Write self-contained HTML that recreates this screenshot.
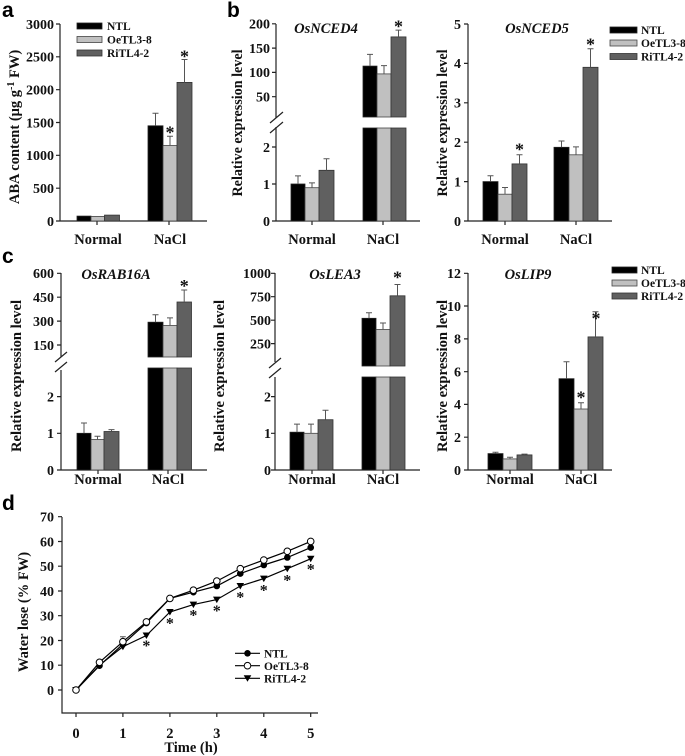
<!DOCTYPE html>
<html><head><meta charset="utf-8">
<style>
html,body{margin:0;padding:0;background:#fff}
svg{display:block}
text{font-family:"Liberation Serif",serif;font-weight:bold;fill:#111}
.tr{font-size:14px;text-anchor:end}
.tc{font-size:14px;text-anchor:middle}
.lab{font-size:14.5px;text-anchor:middle}
.ttl{font-size:14.5px;font-style:italic;text-anchor:middle}
.leg{font-size:11.5px}
.ast{font-size:18px;text-anchor:middle}
.astd{font-size:16px;text-anchor:middle}
.pl{font-family:"Liberation Sans",sans-serif;font-size:21px;fill:#000}
.ax{stroke:#222;stroke-width:1.2;fill:none}
.n{fill:#000;stroke:#222;stroke-width:.8}
.o{fill:#c0c0c0;stroke:#444;stroke-width:.8}
.r{fill:#606060;stroke:#333;stroke-width:.8}
.e{stroke:#555;stroke-width:1;fill:none}
.ln{stroke:#000;stroke-width:1.2;fill:none}
</style></head><body>
<svg width="685" height="756" viewBox="0 0 685 756" xmlns="http://www.w3.org/2000/svg">

<!-- Panel letters -->
<text class="pl" x="2" y="17">a</text>
<text class="pl" x="227" y="17">b</text>
<text class="pl" x="2" y="263">c</text>
<text class="pl" x="2" y="510">d</text>

<!-- ===== Panel a ===== -->
<path class="ax" d="M60,24V221H207 M56,24H60 M56,56.8H60 M56,89.7H60 M56,122.5H60 M56,155.3H60 M56,188.2H60 M56,221H60 M97,221V225 M169,221V225"/>
<text class="tr" x="54" y="28.8">3000</text>
<text class="tr" x="54" y="61.6">2500</text>
<text class="tr" x="54" y="94.5">2000</text>
<text class="tr" x="54" y="127.3">1500</text>
<text class="tr" x="54" y="160.1">1000</text>
<text class="tr" x="54" y="193">500</text>
<text class="tr" x="54" y="225.8">0</text>
<rect class="n" x="77" y="216.1" width="14" height="4.9"/>
<rect class="o" x="91" y="216.4" width="13.5" height="4.6"/>
<rect class="r" x="104.5" y="215.1" width="15" height="5.9"/>
<rect class="n" x="148" y="125.8" width="15" height="95.2"/>
<rect class="o" x="163" y="145.5" width="14" height="75.5"/>
<rect class="r" x="177" y="82.4" width="15" height="138.6"/>
<path class="e" d="M155.5,125.8V113.3 M152.5,113.3H158.5 M170,145.5V136.3 M167,136.3H173 M184.5,82.4V59.5 M181.5,59.5H187.5"/>
<text class="ast" x="170" y="138.6">*</text>
<text class="ast" x="184.5" y="62.6">*</text>
<rect class="n" x="77" y="23" width="25" height="6"/>
<rect class="o" x="77" y="36.5" width="25" height="6"/>
<rect class="r" x="77" y="50" width="25" height="6"/>
<text class="leg" x="107" y="30">NTL</text>
<text class="leg" x="107" y="43.5">OeTL3-8</text>
<text class="leg" x="107" y="57">RiTL4-2</text>
<text class="lab" x="98" y="244">Normal</text>
<text class="lab" x="170" y="244">NaCl</text>
<text class="lab" transform="translate(19,127) rotate(-90)">ABA content (μg g<tspan font-size="10" dy="-5">-1</tspan><tspan dy="5"> FW)</tspan></text>

<!-- ===== Panel b: OsNCED4 ===== -->
<path class="ax" d="M276,24V118 M276,127V221H420 M272,23.8H276 M272,48.1H276 M272,72.4H276 M272,96.7H276 M272,147H276 M272,184H276 M272,221H276 M312,221V225 M383,221V225"/>
<path class="ax" d="M270,123L283,112 M270,133L283,122"/>
<text class="tr" x="270" y="28.6">200</text>
<text class="tr" x="270" y="52.9">150</text>
<text class="tr" x="270" y="77.2">100</text>
<text class="tr" x="270" y="101.5">50</text>
<text class="tr" x="270" y="151.8">2</text>
<text class="tr" x="270" y="188.8">1</text>
<text class="tr" x="270" y="225.8">0</text>
<rect class="n" x="291" y="184" width="14" height="37"/>
<rect class="o" x="305" y="187.7" width="14" height="33.3"/>
<rect class="r" x="319" y="170.3" width="15" height="50.7"/>
<path class="e" d="M298,184V175.9 M295,175.9H301 M312,187.7V182.9 M309,182.9H315 M326.5,170.3V158.8 M323.5,158.8H329.5"/>
<rect class="n" x="363" y="66.1" width="14" height="50.9"/>
<rect class="o" x="377" y="73.9" width="14" height="43.1"/>
<rect class="r" x="391" y="36.9" width="15" height="80.1"/>
<rect class="n" x="363" y="128" width="14" height="93"/>
<rect class="o" x="377" y="128" width="14" height="93"/>
<rect class="r" x="391" y="128" width="15" height="93"/>
<path class="e" d="M370,66.1V54.4 M367,54.4H373 M384,73.9V65.6 M381,65.6H387 M398.5,36.9V30.1 M395.5,30.1H401.5"/>
<text class="ast" x="398.5" y="32.6">*</text>
<text class="ttl" x="326" y="33">OsNCED4</text>
<text class="lab" x="312" y="244">Normal</text>
<text class="lab" x="383" y="244">NaCl</text>
<text class="lab" textLength="147" lengthAdjust="spacingAndGlyphs" transform="translate(242,123) rotate(-90)">Relative expression level</text>

<!-- ===== Panel b: OsNCED5 ===== -->
<path class="ax" d="M468,24V221H612 M464,24H468 M464,63.4H468 M464,102.8H468 M464,142.2H468 M464,181.6H468 M464,221H468 M505,221V225 M576,221V225"/>
<text class="tr" x="461" y="28.8">5</text>
<text class="tr" x="461" y="68.2">4</text>
<text class="tr" x="461" y="107.6">3</text>
<text class="tr" x="461" y="147">2</text>
<text class="tr" x="461" y="186.4">1</text>
<text class="tr" x="461" y="225.8">0</text>
<rect class="n" x="483" y="181.6" width="15" height="39.4"/>
<rect class="o" x="498" y="194.2" width="14" height="26.8"/>
<rect class="r" x="512" y="163.9" width="15" height="57.1"/>
<rect class="n" x="554" y="147.3" width="15" height="73.7"/>
<rect class="o" x="569" y="154.8" width="14" height="66.2"/>
<rect class="r" x="583" y="67.3" width="15" height="153.7"/>
<path class="e" d="M490.5,181.6V175.7 M487.5,175.7H493.5 M505,194.2V187.5 M502,187.5H508 M519.5,163.9V154.8 M516.5,154.8H522.5 M561.5,147.3V141 M558.5,141H564.5 M576,154.8V146.9 M573,146.9H579 M590.5,67.3V48.8 M587.5,48.8H593.5"/>
<text class="ast" x="519.5" y="155.3">*</text>
<text class="ast" x="590.5" y="50.3">*</text>
<text class="ttl" x="537" y="33">OsNCED5</text>
<rect class="n" x="610" y="27" width="27" height="6"/>
<rect class="o" x="610" y="40" width="27" height="6"/>
<rect class="r" x="610" y="53.5" width="27" height="6"/>
<text class="leg" x="641" y="34">NTL</text>
<text class="leg" x="641" y="47">OeTL3-8</text>
<text class="leg" x="641" y="60.5">RiTL4-2</text>
<text class="lab" x="505" y="244">Normal</text>
<text class="lab" x="576" y="244">NaCl</text>
<text class="lab" textLength="147" lengthAdjust="spacingAndGlyphs" transform="translate(447,123) rotate(-90)">Relative expression level</text>

<!-- ===== Panel c: OsRAB16A ===== -->
<path class="ax" d="M61,273V357 M61,370V470H207 M57,273.3H61 M57,297.2H61 M57,321.1H61 M57,345H61 M57,396.6H61 M57,433.3H61 M57,470H61 M98,470V474 M168,470V474"/>
<path class="ax" d="M55,362L67,352 M55,372L67,362"/>
<text class="tr" x="54" y="278.1">600</text>
<text class="tr" x="54" y="302">450</text>
<text class="tr" x="54" y="325.9">300</text>
<text class="tr" x="54" y="349.8">150</text>
<text class="tr" x="54" y="401.4">2</text>
<text class="tr" x="54" y="438.1">1</text>
<text class="tr" x="54" y="474.8">0</text>
<rect class="n" x="77" y="433.3" width="14" height="36.7"/>
<rect class="o" x="91" y="439.5" width="13" height="30.5"/>
<rect class="r" x="104" y="431.5" width="15" height="38.5"/>
<path class="e" d="M84,433.3V423 M81,423H87 M97.5,439.5V436.2 M94.5,436.2H100.5 M111.5,431.5V429.6 M108.5,429.6H114.5"/>
<rect class="n" x="148" y="322.2" width="15" height="34.8"/>
<rect class="o" x="163" y="325.5" width="14" height="31.5"/>
<rect class="r" x="177" y="302" width="14.5" height="55"/>
<rect class="n" x="148" y="368" width="15" height="102"/>
<rect class="o" x="163" y="368" width="14" height="102"/>
<rect class="r" x="177" y="368" width="14.5" height="102"/>
<path class="e" d="M155.5,322.2V314.7 M152.5,314.7H158.5 M170,325.5V317.9 M167,317.9H173 M184.2,302V290 M181.2,290H187.2"/>
<text class="ast" x="184.2" y="291.9">*</text>
<text class="ttl" x="116" y="279">OsRAB16A</text>
<text class="lab" x="98" y="484">Normal</text>
<text class="lab" x="168" y="484">NaCl</text>
<text class="lab" textLength="152" lengthAdjust="spacingAndGlyphs" transform="translate(21,376) rotate(-90)">Relative expression level</text>

<!-- ===== Panel c: OsLEA3 ===== -->
<path class="ax" d="M275,273V362 M275,377V470H420 M271,273.3H275 M271,296.7H275 M271,320.2H275 M271,343.6H275 M271,396.6H275 M271,433.3H275 M271,470H275 M312,470V474 M383,470V474"/>
<path class="ax" d="M269,368L281,358 M269,378L281,368"/>
<text class="tr" x="271" y="278.1">1000</text>
<text class="tr" x="271" y="301.5">750</text>
<text class="tr" x="271" y="325">500</text>
<text class="tr" x="271" y="348.4">250</text>
<text class="tr" x="271" y="401.4">2</text>
<text class="tr" x="271" y="438.1">1</text>
<text class="tr" x="271" y="474.8">0</text>
<rect class="n" x="290" y="432.2" width="14" height="37.8"/>
<rect class="o" x="304" y="433.3" width="14" height="36.7"/>
<rect class="r" x="318" y="419.7" width="15" height="50.3"/>
<path class="e" d="M297,432.2V424.1 M294,424.1H300 M311,433.3V424.1 M308,424.1H314 M325.5,419.7V410.2 M322.5,410.2H328.5"/>
<rect class="n" x="362" y="318.3" width="14" height="47.7"/>
<rect class="o" x="376" y="329.5" width="14" height="36.5"/>
<rect class="r" x="390" y="295.8" width="15" height="70.2"/>
<rect class="n" x="362" y="377" width="14" height="93"/>
<rect class="o" x="376" y="377" width="14" height="93"/>
<rect class="r" x="390" y="377" width="15" height="93"/>
<path class="e" d="M369,318.3V312.7 M366,312.7H372 M383,329.5V323 M380,323H386 M397.5,295.8V284.5 M394.5,284.5H400.5"/>
<text class="ast" x="397.5" y="283.6">*</text>
<text class="ttl" x="335" y="279">OsLEA3</text>
<text class="lab" x="312" y="484">Normal</text>
<text class="lab" x="383" y="484">NaCl</text>
<text class="lab" textLength="152" lengthAdjust="spacingAndGlyphs" transform="translate(224,376) rotate(-90)">Relative expression level</text>

<!-- ===== Panel c: OsLIP9 ===== -->
<path class="ax" d="M468,273V470H612 M464,273.3H468 M464,306H468 M464,338.9H468 M464,371.7H468 M464,404.4H468 M464,437.2H468 M464,470H468 M510,470V474 M581,470V474"/>
<text class="tr" x="461" y="278.1">12</text>
<text class="tr" x="461" y="310.8">10</text>
<text class="tr" x="461" y="343.7">8</text>
<text class="tr" x="461" y="376.5">6</text>
<text class="tr" x="461" y="409.2">4</text>
<text class="tr" x="461" y="442">2</text>
<text class="tr" x="461" y="474.8">0</text>
<rect class="n" x="488" y="453.6" width="15" height="16.4"/>
<rect class="o" x="503" y="458.9" width="14" height="11.1"/>
<rect class="r" x="517" y="454.9" width="15" height="15.1"/>
<path class="e" d="M495.5,453.6V452.3 M492.5,452.3H498.5 M510,458.9V457.2 M507,457.2H513 M524.5,454.9V454.1 M521.5,454.1H527.5"/>
<rect class="n" x="559" y="378.7" width="15" height="91.3"/>
<rect class="o" x="574" y="409" width="14" height="61"/>
<rect class="r" x="588" y="336.9" width="15" height="133.1"/>
<path class="e" d="M566.5,378.7V361.8 M563.5,361.8H569.5 M581,409V402.8 M578,402.8H584 M595.5,336.9V311.8 M592.5,311.8H598.5"/>
<text class="ast" x="581" y="403.6">*</text>
<text class="ast" x="596" y="324.6">*</text>
<text class="ttl" x="528" y="279">OsLIP9</text>
<rect class="n" x="612" y="267" width="25" height="6"/>
<rect class="o" x="612" y="280" width="25" height="6"/>
<rect class="r" x="612" y="293" width="25" height="6"/>
<text class="leg" x="641" y="274">NTL</text>
<text class="leg" x="641" y="287">OeTL3-8</text>
<text class="leg" x="641" y="300">RiTL4-2</text>
<text class="lab" x="510" y="484">Normal</text>
<text class="lab" x="581" y="484">NaCl</text>
<text class="lab" textLength="152" lengthAdjust="spacingAndGlyphs" transform="translate(447,376) rotate(-90)">Relative expression level</text>

<!-- ===== Panel d ===== -->
<path class="ax" d="M62,517V713H318 M58,516.7H62 M58,541.5H62 M58,566.2H62 M58,591H62 M58,615.7H62 M58,640.5H62 M58,665.2H62 M58,690H62 M76,713V717 M122.9,713V717 M169.9,713V717 M216.8,713V717 M263.8,713V717 M310.7,713V717"/>
<text class="tr" x="54" y="521.5">70</text>
<text class="tr" x="54" y="546.3">60</text>
<text class="tr" x="54" y="571">50</text>
<text class="tr" x="54" y="595.8">40</text>
<text class="tr" x="54" y="620.5">30</text>
<text class="tr" x="54" y="645.3">20</text>
<text class="tr" x="54" y="670">10</text>
<text class="tr" x="54" y="694.8">0</text>
<text class="lab" x="76" y="738">0</text>
<text class="lab" x="122.9" y="738">1</text>
<text class="lab" x="169.9" y="738">2</text>
<text class="lab" x="216.8" y="738">3</text>
<text class="lab" x="263.8" y="738">4</text>
<text class="lab" x="310.7" y="738">5</text>
<text class="lab" x="191" y="752">Time (h)</text>
<text class="lab" transform="translate(28,612) rotate(-90)">Water lose (% FW)</text>

<path class="e" d="M122.9,641.7V636.7 M120,636.7H125.8"/>
<polyline class="ln" points="76,690 99.5,665.7 122.9,644.2 146.4,623.1 169.9,598.4 193.4,592.2 216.8,586 240.3,573.6 263.8,565 287.3,557.5 310.7,547.6"/>
<polyline class="ln" points="76,690 99.5,665.2 122.9,646.7 146.4,635.5 169.9,612 193.4,604.6 216.8,599.6 240.3,586 263.8,578.6 287.3,568.7 310.7,558.8"/>
<polyline class="ln" points="76,690 99.5,662.3 122.9,641.7 146.4,621.9 169.9,598.4 193.4,590.2 216.8,581.1 240.3,568.7 263.8,560 287.3,551.3 310.7,541.4"/>
<g fill="#000">
<circle cx="76" cy="690" r="3.3"/><circle cx="99.5" cy="665.7" r="3.3"/><circle cx="122.9" cy="644.2" r="3.3"/><circle cx="146.4" cy="623.1" r="3.3"/><circle cx="169.9" cy="598.4" r="3.3"/><circle cx="193.4" cy="592.2" r="3.3"/><circle cx="216.8" cy="586" r="3.3"/><circle cx="240.3" cy="573.6" r="3.3"/><circle cx="263.8" cy="565" r="3.3"/><circle cx="287.3" cy="557.5" r="3.3"/><circle cx="310.7" cy="547.6" r="3.3"/>
<polygon points="72.2,687 79.8,687 76,693.5"/>
<polygon points="95.7,662.2 103.3,662.2 99.5,668.7"/>
<polygon points="119.1,643.7 126.7,643.7 122.9,650.2"/>
<polygon points="142.6,632.5 150.2,632.5 146.4,639"/>
<polygon points="166.1,609 173.7,609 169.9,615.5"/>
<polygon points="189.6,601.6 197.2,601.6 193.4,608.1"/>
<polygon points="213,596.6 220.6,596.6 216.8,603.1"/>
<polygon points="236.5,583 244.1,583 240.3,589.5"/>
<polygon points="260,575.6 267.6,575.6 263.8,582.1"/>
<polygon points="283.5,565.7 291.1,565.7 287.3,572.2"/>
<polygon points="306.9,555.8 314.5,555.8 310.7,562.3"/>
</g>
<g fill="#fff" stroke="#000" stroke-width="1">
<circle cx="76" cy="690" r="3.3"/><circle cx="99.5" cy="662.3" r="3.3"/><circle cx="122.9" cy="641.7" r="3.3"/><circle cx="146.4" cy="621.9" r="3.3"/><circle cx="169.9" cy="598.4" r="3.3"/><circle cx="193.4" cy="590.2" r="3.3"/><circle cx="216.8" cy="581.1" r="3.3"/><circle cx="240.3" cy="568.7" r="3.3"/><circle cx="263.8" cy="560" r="3.3"/><circle cx="287.3" cy="551.3" r="3.3"/><circle cx="310.7" cy="541.4" r="3.3"/>
</g>
<text class="astd" x="146.4" y="651.2">*</text>
<text class="astd" x="169.9" y="628.7">*</text>
<text class="astd" x="193.4" y="620.7">*</text>
<text class="astd" x="216.8" y="616.2">*</text>
<text class="astd" x="240.3" y="602.7">*</text>
<text class="astd" x="263.8" y="595.7">*</text>
<text class="astd" x="287.3" y="585.7">*</text>
<text class="astd" x="310.7" y="574.7">*</text>

<!-- legend d -->
<path class="ln" d="M235,653.3H260 M235,665.7H260 M235,678.3H260"/>
<circle cx="247.5" cy="653.3" r="3.3" fill="#000"/>
<circle cx="247.5" cy="665.7" r="3.3" fill="#fff" stroke="#000" stroke-width="1"/>
<polygon points="243.7,675.3 251.3,675.3 247.5,681.8" fill="#000"/>
<text class="leg" x="264" y="657.5">NTL</text>
<text class="leg" x="264" y="670">OeTL3-8</text>
<text class="leg" x="264" y="682.5">RiTL4-2</text>

</svg>
</body></html>
